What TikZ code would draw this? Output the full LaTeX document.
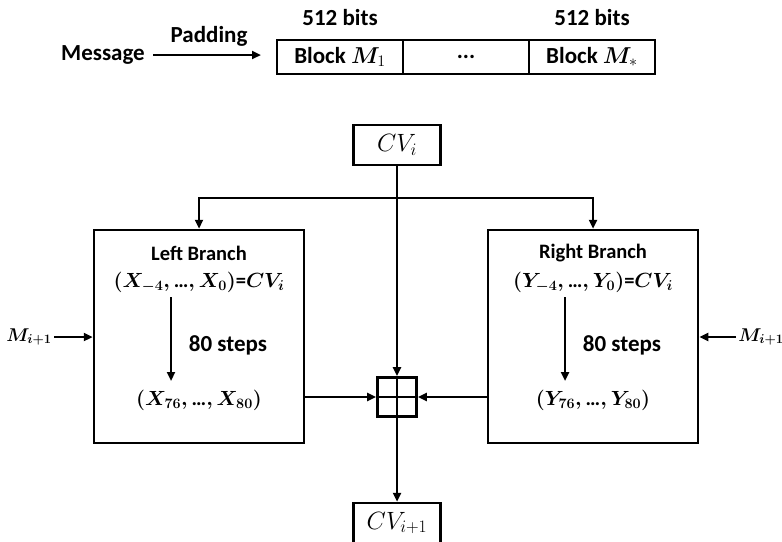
\RequirePackage{fix-cm}
\documentclass[tikz,border=0pt]{standalone}
\usepackage[no-math]{fontspec}
\setmainfont{Carlito}
\usepackage{amsmath,bm}
\usetikzlibrary{arrows.meta}
\newcommand{\dd}{\text{\textellipsis}}

\begin{document}
\begin{tikzpicture}[x=1pt,y=-1pt,line width=2.5pt,>={Triangle[length=9pt,width=8pt]},
  every node/.style={font=\fontsize{20.5}{24}\selectfont\bfseries\boldmath},
  big/.style={font=\fontsize{23}{27}\selectfont\bfseries},
  cell/.style={draw,line width=2pt,minimum width=126pt,minimum height=34pt,inner sep=0pt},
  cvbox/.style={draw,minimum width=87pt,minimum height=40pt,inner sep=0pt,
    font=\fontsize{25}{29}\selectfont},
  branch/.style={draw,minimum width=210pt,minimum height=213pt,inner sep=0pt},
  msgin/.style={inner sep=1pt,font=\fontsize{18.5}{22}\selectfont\boldmath}]
  \useasboundingbox (0,0) rectangle (782,541);
  % message and its blocks
  \node[big] (msg) at (103,55) {Message};
  \node[cell,font=\fontsize{23}{27}\selectfont\bfseries] (b1) at (340,57) {Block $\bm{M}_1$};
  \node[cell,font=\fontsize{23}{27}\selectfont\bfseries] (b2) at (466,57) {...};
  \node[cell,font=\fontsize{23}{27}\selectfont\bfseries] (b3) at (592,57) {Block $\bm{M}_*$};
  \node[big] (w1) at (340,18) {512 bits};
  \node[big] (w3) at (592,18) {512 bits};
  \node[big] (pad) at (209,36) {Padding};
  \draw[->,line width=2.8pt] ([xshift=4pt]msg.east)--([xshift=-15pt]b1.west|-msg);
  % compression function
  \node[cvbox] (cv) at (397,145) {$CV_i$};
  \node[branch] (lb) at (199,336.5) {};
  \node[branch] (rb) at (593,336.5) {};
  \node (lt) at (199,253) {Left Branch};
  \node (li) at (199,282) {$(X_{-4},\dd,X_0)$=$CV_i$};
  \node[big] (ls) at (228,345) {80 steps};
  \node (lo) at (199,400) {$(X_{76},\dd,X_{80})$};
  \node (rt) at (593,253) {Right Branch};
  \node (ri) at (593,282) {$(Y_{-4},\dd,Y_0)$=$CV_i$};
  \node[big] (rs) at (622,345) {80 steps};
  \node (ro) at (593,400) {$(Y_{76},\dd,Y_{80})$};
  \coordinate (la) at (171,297);
  \coordinate (lz) at (171,381);
  \coordinate (ra) at (565,297);
  \coordinate (rz) at (565,381);
  \draw[->] (la)--(lz);
  \draw[->] (ra)--(rz);
  \node[draw,line width=2.8pt,minimum size=39pt,inner sep=0pt] (sq) at (397,397) {};
  \draw[line width=2.8pt] (sq.west)--(sq.east);
  \node[cvbox] (cvn) at (397,523) {$CV_{i+1}$};
  \coordinate (split) at (397,198);
  \draw[->] (cv)--(sq);
  \draw[->] (split)-|(lb.north);
  \draw[->] (split)-|(rb.north);
  \draw[->] (lb.east|-sq)--(sq.west);
  \draw[->] (rb.west|-sq)--(sq.east);
  \draw[->] (sq.north)--(cvn);
  \node[msgin,anchor=east] (ml) at (54,337) {$M_{i+1}$};
  \node[msgin,anchor=west] (mr) at (736,337) {$M_{i+1}$};
  \draw[->] (ml.east)--(lb.west|-ml);
  \draw[->] (mr.west)--(rb.east|-mr);
\end{tikzpicture}
\end{document}
